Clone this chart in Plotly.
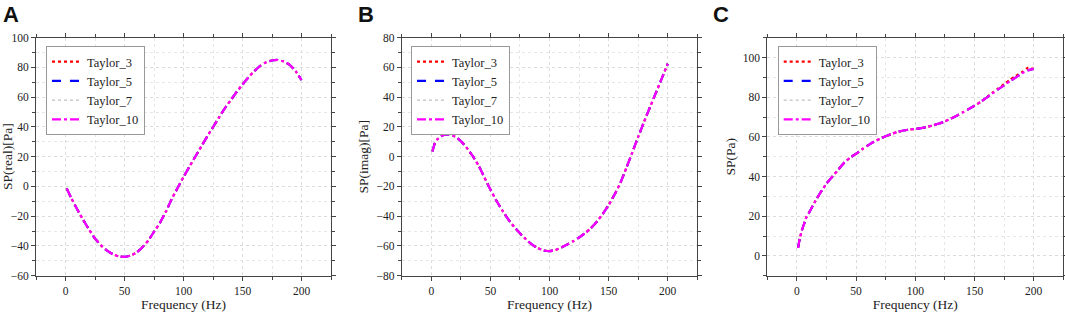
import plotly.graph_objects as go

# ---------------- data ----------------
freq_a = [1, 5, 10, 15, 20, 25, 30, 35, 40, 45, 50, 55, 60, 65, 70, 75, 80, 85, 90, 95, 100,
          105, 110, 115, 120, 125, 130, 135, 140, 145, 150, 155, 160, 165, 170, 175, 180, 185,
          190, 195, 200]
sp_real = [-1.3, -8, -15.5, -22.5, -29, -35, -39.5, -43, -45.5, -47, -47.3, -46.5, -44.5, -41,
           -36.5, -30.5, -24.5, -17, -8.5, -1, 6.3, 13.3, 20, 26.8, 33.5, 39.8, 46.3, 52.5, 58,
           63.5, 68.5, 73.3, 77.5, 81, 83.5, 84.7, 85, 84, 81.8, 77.5, 71.5]

freq_b = [1, 3, 5, 10, 15, 20, 25, 30, 35, 40, 45, 50, 55, 60, 65, 70, 75, 80, 85, 90, 95, 100,
          105, 110, 115, 120, 125, 130, 135, 140, 145, 150, 155, 160, 165, 170, 175, 180, 185,
          190, 195, 200]
sp_imag = [3.5, 9, 11.5, 14.5, 15, 13.5, 10.5, 6, 0.5, -6, -14, -22, -29.5, -36, -42, -47,
           -51.5, -55.5, -59, -61.5, -63, -63.5, -62.8, -61, -59, -56.8, -54.3, -51.5, -48,
           -43.7, -38.5, -32.5, -25.5, -17.5, -7.5, 2.8, 13.3, 23.5, 33.3, 43, 52.7, 62.5]

freq_c = [1, 2, 4, 6, 8, 10, 15, 20, 25, 30, 35, 40, 45, 50, 55, 60, 65, 70, 75, 80, 85, 90, 95,
          100, 105, 110, 115, 120, 125, 130, 135, 140, 145, 150, 155, 160, 165, 170, 175, 180,
          185, 190, 195, 200]
sp_abs = [4, 7.5, 12.5, 16, 19.5, 21.5, 27, 32, 36.5, 40, 43.5, 47, 49.5, 51.5, 53.7, 55.7, 57.5,
          59, 60.3, 61.5, 62.5, 63.2, 63.7, 64, 64.4, 65, 65.8, 66.7, 67.8, 69.2, 70.7, 72.3,
          74, 75.7, 77.6, 79.7, 81.8, 84, 86, 88.1, 90, 92, 93.5, 94.3]
sp_abs_t3 = [4, 7.5, 12.5, 16, 19.5, 21.5, 27, 32, 36.5, 40, 43.5, 47, 49.5, 51.5, 53.7, 55.7,
             57.5, 59, 60.3, 61.5, 62.5, 63.2, 63.7, 64, 64.4, 65, 65.8, 66.7, 67.8, 69.2, 70.7,
             72.3, 74, 75.7, 77.6, 79.7, 82.2, 84.4, 86.6, 88.8, 90.8, 92.6, 94.8, 94.3]

series_names = ["Taylor_3", "Taylor_5", "Taylor_7", "Taylor_10"]
series_colors = ["#ff0000", "#0000ff", "#b0b0b0", "#ff00ff"]
series_dash = ["dot", "dash", "dot", "dashdot"]
series_width = [2.2, 2.2, 1, 2.2]

panel_labels = ["A", "B", "C"]
y_titles = ["SP(real)[Pa]", "SP(imag)[Pa]", "SP(Pa)"]
y_ranges = [[-60, 100], [-80, 80], [-10, 110]]

# ---------------- figure ----------------
W, H = 1065, 312
fig = go.Figure()

panels = [
    (freq_a, [sp_real, sp_real, sp_real, sp_real]),
    (freq_b, [sp_imag, sp_imag, sp_imag, sp_imag]),
    (freq_c, [sp_abs_t3, sp_abs, sp_abs, sp_abs]),
]

x_domains = [[36 / W, 331 / W], [401.7 / W, 697.3 / W], [767.3 / W, 1063.3 / W]]
y_domain = [1 - 275.7 / H, 1 - 37.7 / H]
legend_x = [46 / W, 411 / W, 777.7 / W]
label_x = [1 / W, 356 / W, 711 / W]

serif = "Liberation Serif, Times New Roman, serif"

for p, (fx, ys) in enumerate(panels):
    xa = "x" if p == 0 else f"x{p + 1}"
    ya = "y" if p == 0 else f"y{p + 1}"
    leg = "legend" if p == 0 else f"legend{p + 1}"
    for i, name in enumerate(series_names):
        fig.add_trace(go.Scatter(
            x=fx, y=ys[i], mode="lines", name=name,
            line=dict(color=series_colors[i], dash=series_dash[i], width=series_width[i],
                      shape="spline", smoothing=0.5),
            xaxis=xa, yaxis=ya, legend=leg, showlegend=True,
        ))

axis_common = dict(
    showline=True, mirror="allticks", linecolor="#444", linewidth=1,
    ticks="outside", ticklen=4, tickcolor="#444", tickwidth=1,
    showgrid=True, gridcolor="#dcdcdc", griddash="dot", gridwidth=1,
    zeroline=False, automargin=False,
    tickfont=dict(family=serif, size=11.5, color="#222"),
)

layout = dict(
    width=W, height=H, margin=dict(l=0, r=0, t=0, b=0, autoexpand=False),
    paper_bgcolor="white", plot_bgcolor="white", showlegend=True,
)

for p in range(3):
    xk = "xaxis" if p == 0 else f"xaxis{p + 1}"
    yk = "yaxis" if p == 0 else f"yaxis{p + 1}"
    anchor_y = "y" if p == 0 else f"y{p + 1}"
    anchor_x = "x" if p == 0 else f"x{p + 1}"
    layout[xk] = dict(
        axis_common, domain=x_domains[p], anchor=anchor_y, range=[-25, 225],
        tick0=0, dtick=50,
        minor=dict(dtick=25, tick0=0, showgrid=True, gridcolor="#e6e6e6", griddash="dot",
                   ticks="outside", ticklen=3, tickcolor="#444"),
        title=dict(text="Frequency (Hz)", font=dict(family=serif, size=13.5, color="#222"),
                   standoff=5),
    )
    layout[yk] = dict(
        axis_common, domain=y_domain, anchor=anchor_x, range=y_ranges[p],
        tick0=0, dtick=20,
        minor=dict(dtick=10, tick0=0, showgrid=True, gridcolor="#e6e6e6", griddash="dot",
                   ticks="outside", ticklen=3, tickcolor="#444"),
        title=dict(text=y_titles[p], font=dict(family=serif, size=13.5, color="#222"),
                   standoff=4),
    )
    lk = "legend" if p == 0 else f"legend{p + 1}"
    layout[lk] = dict(
        x=legend_x[p], y=1 - 46 / H, xref="paper", yref="paper",
        xanchor="left", yanchor="top",
        bgcolor="white", bordercolor="#999", borderwidth=1,
        font=dict(family=serif, size=12.5, color="#222"),
        tracegroupgap=0, itemwidth=30,
    )

fig.update_layout(**layout)

for p in range(3):
    fig.add_annotation(
        text=f"<b>{panel_labels[p]}</b>", x=label_x[p], y=1,
        xref="paper", yref="paper", xanchor="left", yanchor="top", showarrow=False,
        font=dict(family="Liberation Sans, Arial, sans-serif", size=22, color="#111"),
    )

fig.write_html("out.html", config={"displayModeBar": False},
               post_script="document.body.style.margin='0';document.body.style.padding='0';")
